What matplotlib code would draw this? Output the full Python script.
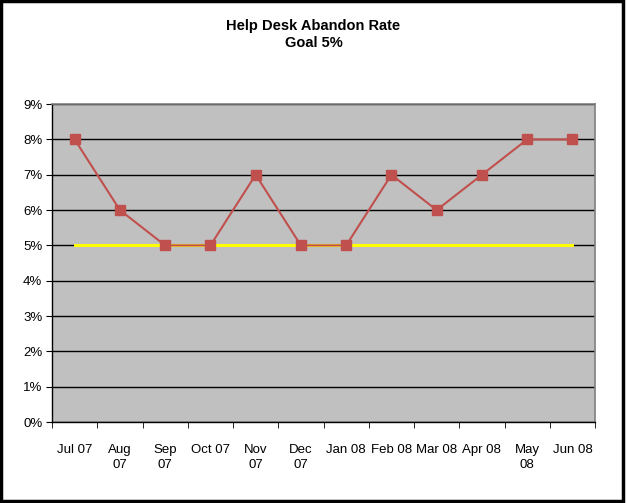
import numpy as np
import matplotlib.pyplot as plt
from matplotlib.patches import Rectangle
from matplotlib.ticker import FuncFormatter

plt.rcParams['font.family'] = ['Liberation Sans', 'DejaVu Sans']

months = ["Jul 07", "Aug\n07", "Sep\n07", "Oct 07", "Nov\n07", "Dec\n07",
          "Jan 08", "Feb 08", "Mar 08", "Apr 08", "May\n08", "Jun 08"]
rate = [8, 6, 5, 5, 7, 5, 5, 7, 6, 7, 8, 8]
goal = [5] * 12

fig = plt.figure(figsize=(6.27, 5.03), dpi=100)
ax = fig.add_axes([0.083, 0.161, 0.866, 0.632])

x = np.arange(len(months))
ax.plot(x, goal, color='#FFFF00', lw=2.2, zorder=3)
ax.plot(x, rate, color='#C0504D', lw=1.5, marker='s', markersize=6.5, zorder=4)

ax.set_facecolor('#C0C0C0')
ax.set_xlim(-0.5, len(months) - 0.5)
ax.set_ylim(0, 9)
ax.set_yticks(range(0, 10))
ax.yaxis.set_major_formatter(FuncFormatter(lambda v, p: '%d%%' % v))
ax.grid(axis='y', color='black', lw=1.0, zorder=1)
ax.set_axisbelow(True)

# category labels centred, tick marks at bin edges
ax.set_xticks(x)
ax.set_xticklabels(months, fontsize=9.5, linespacing=1.3, va='top')
ax.set_xticks(np.arange(-0.5, len(months)), minor=True)
ax.tick_params(axis='x', which='major', length=0, pad=16)
ax.tick_params(axis='x', which='minor', length=4, direction='out', color='black')
ax.tick_params(axis='y', length=4, direction='out', labelsize=9.5, pad=3)

for s in ['top', 'right']:
    ax.spines[s].set_color('#808080')
    ax.spines[s].set_linewidth(1.2)
for s in ['left', 'bottom']:
    ax.spines[s].set_color('black')
    ax.spines[s].set_linewidth(1.0)

fig.text(0.5, 0.962, 'Help Desk Abandon Rate\nGoal 5%', ha='center', va='top',
         fontsize=10.5, fontweight='bold', linespacing=1.25)

fig.patches.append(Rectangle((0.002, 0.004), 0.992, 0.994, transform=fig.transFigure,
                             fill=False, edgecolor='black', lw=2.5))

fig.savefig('out.png', dpi=100)
